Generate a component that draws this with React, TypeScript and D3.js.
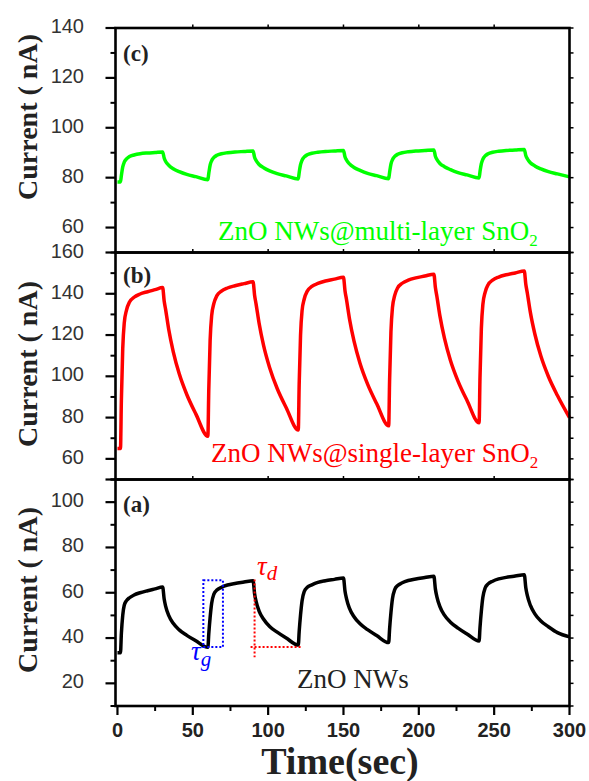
import React from 'react';
import * as d3 from 'd3';

// time axis (sec), shared by the three traces
const times = [
  0, 2, 2.6, 3.5, 4.5, 6, 8, 11, 15, 20, 25, 30, 31, 32, 34, 37, 41, 46, 52,
  60, 60.6, 61.5, 62.5, 64, 66, 69, 73, 78, 84, 90, 91, 92, 94, 97, 101, 106, 112,
  120, 120.6, 121.5, 122.5, 124, 126, 129, 133, 138, 144, 150, 151, 152, 154, 157, 161, 166, 172,
  180, 180.6, 181.5, 182.5, 184, 186, 189, 193, 198, 204, 210, 211, 212, 214, 217, 221, 226, 232,
  240, 240.6, 241.5, 242.5, 244, 246, 249, 253, 258, 264, 270, 271, 272, 274, 277, 281, 286, 292,
  300,
];

// (a) ZnO NWs
const currentA = [
  33.5, 33.5, 42, 50, 54.5, 56.5, 57.8, 59, 60, 60.9, 61.7, 62.5, 57.2, 54, 50, 46.5, 43.6, 41.2, 38.8,
  35.9, 41.8, 49.1, 55.3, 59.4, 61.2, 62.4, 63.4, 64.1, 64.7, 65.3, 59.6, 56.2, 51.9, 48.3, 45.1, 42.6, 40,
  36.9, 42.8, 50.2, 56.4, 60.6, 62.4, 63.5, 64.6, 65.3, 65.9, 66.5, 60.8, 57.4, 53.1, 49.4, 46.3, 43.7, 41.1,
  38, 43.9, 51.2, 57.3, 61.4, 63.2, 64.4, 65.4, 66.1, 66.7, 67.3, 61.6, 58.2, 53.9, 50.1, 47, 44.4, 41.8,
  38.7, 44.6, 51.9, 58, 62.1, 63.9, 65.1, 66.1, 66.8, 67.4, 68, 62.2, 58.8, 54.5, 50.7, 47.5, 45, 42.4,
  40.5,
];

// (b) ZnO NWs@single-layer SnO2
const currentB = [
  65, 65, 88.4, 113.4, 125.8, 132.1, 136, 138.3, 139.9, 141, 142, 143, 136.5, 132.2, 122.8, 112, 101.2, 91.2, 81.8,
  71, 93.4, 117.4, 129.3, 135.3, 139.1, 141.3, 142.8, 143.9, 144.9, 145.8, 139.3, 135, 125.7, 114.9, 104.2, 94.1, 84.8,
  74, 96.2, 119.9, 131.7, 137.6, 141.3, 143.6, 145, 146.2, 147.1, 148, 141.5, 137.2, 127.8, 117, 106.2, 96.2, 86.8,
  76, 98, 121.6, 133.3, 139.2, 142.9, 145.1, 146.6, 147.7, 148.6, 149.5, 143, 138.7, 129.3, 118.5, 107.7, 97.7, 88.3,
  77.5, 99.5, 123.1, 134.8, 140.7, 144.4, 146.6, 148.1, 149.2, 150.1, 151, 144.6, 140.4, 131.1, 120.5, 109.8, 99.9, 90.7,
  80,
];

// (c) ZnO NWs@multi-layer SnO2
const currentC = [
  78.3, 78.3, 80.9, 84.3, 86.2, 87.5, 88.5, 89.1, 89.6, 89.9, 90.1, 90.3, 87.9, 86.5, 85, 83.6, 82.4, 81.3, 80.4,
  79.2, 81.7, 85, 86.8, 88.1, 89, 89.6, 90, 90.3, 90.5, 90.7, 88.2, 86.9, 85.3, 84, 82.7, 81.6, 80.7,
  79.5, 82, 85.2, 87, 88.3, 89.2, 89.8, 90.2, 90.5, 90.7, 90.9, 88.4, 87.1, 85.5, 84.1, 82.9, 81.7, 80.8,
  79.6, 82.1, 85.4, 87.2, 88.5, 89.4, 90, 90.4, 90.7, 90.9, 91.1, 88.6, 87.3, 85.7, 84.4, 83.2, 82, 81.1,
  79.9, 82.4, 85.6, 87.4, 88.7, 89.6, 90.2, 90.6, 90.9, 91.1, 91.3, 88.9, 87.6, 86, 84.7, 83.5, 82.4, 81.5,
  80.3,
];

const xTicks = [0, 50, 100, 150, 200, 250, 300];
const xMinorTicks = [25, 75, 125, 175, 225, 275];
const ticksA = [20, 40, 60, 80, 100];
const ticksB = [60, 80, 100, 120, 140, 160];
const ticksC = [60, 80, 100, 120, 140];

// tau_g box and tau_d marker in panel (a), data units
const tauGBox = [57, 70, 36, 65.5];
const tauDLine = [91, 122.4, 31.5, 65.8, 36.1];

const SERIF = "'Liberation Serif','Times New Roman',serif";
const SANS = "'Liberation Sans',Arial,sans-serif";

const x = d3.scaleLinear().domain([-1.3, 300]).range([115.5, 569.5]);

const panels = [
  { id: 'c', values: currentC, domain: [50, 140], top: 28, bottom: 252.5, ticks: ticksC, color: '#00ff00', titleY: 117, labelY: 61 },
  { id: 'b', values: currentB, domain: [50, 160], top: 252.5, bottom: 479.5, ticks: ticksB, color: '#ff0000', titleY: 364, labelY: 283 },
  { id: 'a', values: currentA, domain: [10, 110], top: 479.5, bottom: 706, ticks: ticksA, color: '#000000', titleY: 590, labelY: 512 },
];

const App = () => {
  const x0 = x.range()[0];
  const x1 = x.range()[1];

  return (
    <svg width={589} height={781} style={{ position: 'absolute', left: 0, top: 0, background: '#fff' }}>
      {panels.map((p) => {
        const y = d3.scaleLinear().domain(p.domain).range([p.bottom, p.top]);
        const line = d3.line<number>()
          .x((_, i) => x(times[i]))
          .y((d) => y(d))
          .curve(d3.curveMonotoneX);
        const all = d3.range(p.domain[0], p.domain[1] + 1, 10);
        const minor = all.filter((v) => !p.ticks.includes(v));
        return (
          <g key={p.id}>
            <path d={line(p.values) || ''} fill="none" stroke={p.color} strokeWidth={3.5} strokeLinejoin="round" />
            {p.ticks.map((v) => (
              <g key={'M' + v}>
                <line x1={x0 - 10} x2={x0} y1={y(v)} y2={y(v)} stroke="#000" strokeWidth={2.2} />
                <text x={84} y={y(v) - 2} textAnchor="end" dominantBaseline="central"
                  fontFamily={SANS} fontSize={20} fill="#333">{v}</text>
              </g>
            ))}
            {minor.map((v) => (
              <line key={'m' + v} x1={x0 - 5} x2={x0} y1={y(v)} y2={y(v)} stroke="#000" strokeWidth={2} />
            ))}
            {all.map((v) => (
              <line key={'r' + v} x1={x1} x2={x1 + 4} y1={y(v)} y2={y(v)} stroke="#000" strokeWidth={1.5} />
            ))}
            {xTicks.slice(1, -1).map((t) => (
              <line key={'t' + t} x1={x(t)} x2={x(t)} y1={p.top - 3.5} y2={p.top} stroke="#000" strokeWidth={1.5} />
            ))}
            <rect x={x0} y={p.top} width={x1 - x0} height={p.bottom - p.top} fill="none" stroke="#000" strokeWidth={2.6} />
            <text x={123} y={p.labelY} fontFamily={SERIF} fontWeight="bold" fontSize={23} fill="#222">({p.id})</text>
            <text transform={`translate(37,${p.titleY}) rotate(-90)`} textAnchor="middle" fontFamily={SERIF}
              fontWeight="bold" fontSize={28} fill="#222">Current ( nA)</text>
          </g>
        );
      })}

      <line x1={x0 - 10} x2={x0} y1={479.5} y2={479.5} stroke="#000" strokeWidth={2.2} />

      {/* bottom axis */}
      {xTicks.map((t) => (
        <g key={'x' + t}>
          <line x1={x(t)} x2={x(t)} y1={706} y2={715} stroke="#000" strokeWidth={2.2} />
          <text x={x(t)} y={737} textAnchor="middle" fontFamily={SANS} fontWeight="bold" fontSize={20} fill="#222">{t}</text>
        </g>
      ))}
      {xMinorTicks.map((t) => (
        <line key={'xm' + t} x1={x(t)} x2={x(t)} y1={706} y2={711} stroke="#000" strokeWidth={2} />
      ))}
      <text x={340} y={774} textAnchor="middle" fontFamily={SERIF} fontWeight="bold" fontSize={38} fill="#222">Time(sec)</text>

      {/* series labels */}
      <text x={218} y={240} fontFamily={SERIF} fontSize={27} fill="#00ff00">
        ZnO NWs@multi-layer SnO<tspan fontSize={17} dy={6}>2</tspan>
      </text>
      <text x={211} y={462} fontFamily={SERIF} fontSize={27} fill="#ff0000">
        ZnO NWs@single-layer SnO<tspan fontSize={17} dy={6}>2</tspan>
      </text>
      <text x={297} y={688} fontFamily={SERIF} fontSize={27} fill="#222">ZnO NWs</text>

      {/* response / recovery time markers in (a) */}
      {(() => {
        const y = d3.scaleLinear().domain([10, 110]).range([706, 479.5]);
        const [g0, g1, gv0, gv1] = tauGBox;
        const [d0, d1, dv0, dv1, dh] = tauDLine;
        return (
          <g>
            <rect x={x(g0)} y={y(gv1)} width={x(g1) - x(g0)} height={y(gv0) - y(gv1)} fill="none"
              stroke="#0000ff" strokeWidth={2} strokeDasharray="2,2" />
            <line x1={x(d0)} x2={x(d0)} y1={y(dv1)} y2={y(dv0)} stroke="#ff0000" strokeWidth={2} strokeDasharray="2,2" />
            <line x1={x(d0) - 4} x2={x(d1)} y1={y(dh)} y2={y(dh)} stroke="#ff0000" strokeWidth={2} strokeDasharray="2,2" />
            <text x={257} y={575} fontFamily={SERIF} fontStyle="italic" fontSize={27} fill="#ff0000">
              τ<tspan fontSize={21} dy={5}>d</tspan>
            </text>
            <text x={191} y={660} fontFamily={SERIF} fontStyle="italic" fontSize={27} fill="#0000ff">
              τ<tspan fontSize={21} dy={6}>g</tspan>
            </text>
          </g>
        );
      })()}
    </svg>
  );
};

export default App;
